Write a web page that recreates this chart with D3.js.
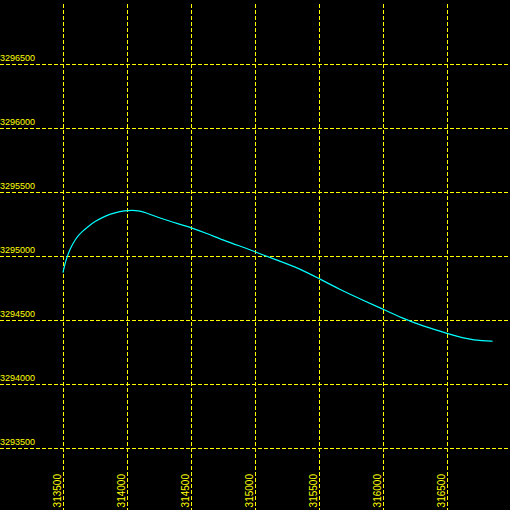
<!DOCTYPE html>
<html>
<head>
<meta charset="utf-8">
<script src="https://cdn.jsdelivr.net/npm/d3@7"></script>
<style>
  html, body { margin: 0; padding: 0; background: #000; }
  svg { display: block; }
</style>
</head>
<body>
<svg width="510" height="510"></svg>
<script>
// tick values on each axis
var xTicks = [313500, 314000, 314500, 315000, 315500, 316000, 316500];
var yTicks = [3293500, 3294000, 3294500, 3295000, 3295500, 3296000, 3296500];

// track points (easting, northing)
var trackX = [313500, 313516, 313541, 313568, 313594, 313620, 313646, 313698, 313750, 313828,
              313906, 313984, 314040, 314088, 314141, 314258, 314414, 314502, 314623, 314779,
              314935, 315026, 315195, 315352, 315495, 315664, 315820, 315977, 316159,
              316315, 316498, 316654, 316784, 316857];
var trackY = [3294870, 3294945, 3295020, 3295080, 3295125, 3295160, 3295188, 3295232, 3295270, 3295312,
              3295338, 3295354, 3295358, 3295355, 3295341, 3295295, 3295248, 3295221, 3295177, 3295112,
              3295060, 3295022, 3294960, 3294900, 3294826, 3294738, 3294665, 3294595, 3294510,
              3294452, 3294396, 3294352, 3294336, 3294334];

var svg = d3.select("svg"),
    width = +svg.attr("width"),
    height = +svg.attr("height");

var x = d3.scaleLinear().domain([313000, 317000]).range([-1, 511]);
var y = d3.scaleLinear().domain([3297000, 3293000]).range([0, 512]);

var grid = "#ffff00";

svg.append("rect")
    .attr("width", width)
    .attr("height", height)
    .attr("fill", "#000");

// vertical grid
svg.append("g")
    .selectAll("line")
    .data(xTicks)
    .enter().append("line")
    .attr("x1", function(d) { return Math.round(x(d)) + 0.5; })
    .attr("x2", function(d) { return Math.round(x(d)) + 0.5; })
    .attr("y1", 4)
    .attr("y2", height)
    .attr("stroke", grid)
    .attr("stroke-dasharray", "4,2")
    .attr("shape-rendering", "crispEdges");

// horizontal grid
svg.append("g")
    .selectAll("line")
    .data(yTicks)
    .enter().append("line")
    .attr("y1", function(d) { return Math.round(y(d)) + 0.5; })
    .attr("y2", function(d) { return Math.round(y(d)) + 0.5; })
    .attr("x1", 0)
    .attr("x2", width)
    .attr("stroke", grid)
    .attr("stroke-dasharray", "4,2")
    .attr("shape-rendering", "crispEdges");

// y labels
svg.append("g")
    .selectAll("text")
    .data(yTicks)
    .enter().append("text")
    .attr("x", 0)
    .attr("y", function(d) { return Math.round(y(d)) - 3; })
    .attr("fill", grid)
    .style("font", "9px 'Liberation Sans', Arial, sans-serif")
    .text(function(d) { return d; });

// x labels, rotated
svg.append("g")
    .selectAll("text")
    .data(xTicks)
    .enter().append("text")
    .attr("transform", function(d) {
        return "translate(" + (Math.round(x(d)) - 2) + ",474) rotate(-90)";
    })
    .attr("text-anchor", "end")
    .attr("fill", grid)
    .style("font", "10px 'Liberation Sans', Arial, sans-serif")
    .text(function(d) { return d; });

var pts = trackX.map(function(d, i) { return [d, trackY[i]]; });

var line = d3.line()
    .x(function(d) { return x(d[0]); })
    .y(function(d) { return y(d[1]); })
    .curve(d3.curveBasis);

svg.append("path")
    .datum(pts)
    .attr("d", line)
    .attr("fill", "none")
    .attr("stroke", "#00ffff")
    .attr("stroke-width", 1.2);
</script>
</body>
</html>
